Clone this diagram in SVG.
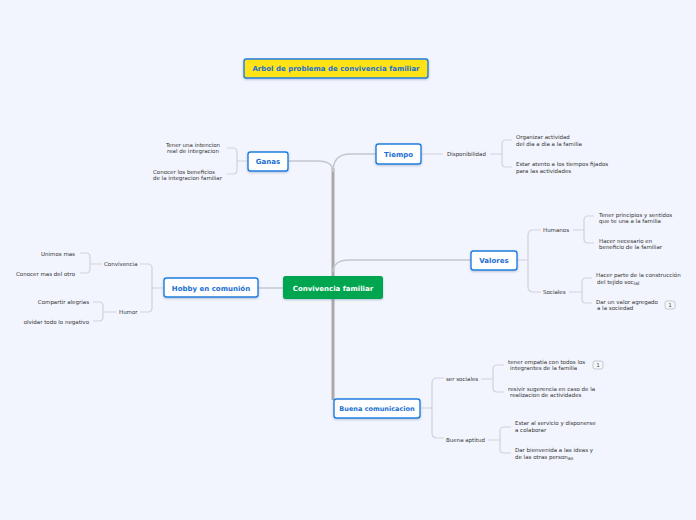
<svg xmlns="http://www.w3.org/2000/svg" width="696" height="520" viewBox="0 0 696 520">
<defs>
<filter id="sh" x="-10%" y="-20%" width="120%" height="150%"><feDropShadow dx="0" dy="1" stdDeviation="0.8" flood-color="#6a7fa0" flood-opacity="0.45"/></filter>
</defs>
<style>
.node{fill:#ffffff;stroke:#1f7fe0;stroke-width:1.4;filter:url(#sh)}
.lbl{font-family:"DejaVu Sans",Verdana,sans-serif;font-weight:bold;font-size:7px;fill:#1a6fd2;text-anchor:middle}
.t{font-family:"DejaVu Sans",Verdana,sans-serif;font-size:5.5px;fill:#333333}
.e{text-anchor:end}
.m{text-anchor:middle}
.c{fill:none;stroke:#cfd3db;stroke-width:1.2}
.c2{fill:none;stroke:#c3c6cc;stroke-width:1.4}
.trunk{fill:none;stroke:#a9a9a9;stroke-width:3}
.badge{fill:#f6f7f9;stroke:#b8bcc4;stroke-width:0.8}
</style>
<rect width="696" height="520" fill="#f2f5fd"/>

<g id="connectors">
<path class="trunk" d="M333,168 V400"/>
<path class="c2" d="M288,161 H318 Q333,161 333,172"/>
<path class="c2" d="M333,172 Q333,154 350,154 H376"/>
<path class="c2" d="M333,272 Q333,260 350,260 H471"/>
<path class="c2" d="M258,288 H283"/>
<path class="c" d="M248,161 H237 M227,148 H233 Q237,148 237,152 V170 Q237,174 233,174 H227"/>
<path class="c" d="M421,154 H443 M490,154 H502 M512,140 H506 Q502,140 502,144 V163 Q502,167 506,167 H512"/>
<path class="c" d="M517,260 H528 M541,230 H533 Q528,230 528,235 V287 Q528,292 533,292 H541"/>
<path class="c" d="M573,230 H584 M594,216 H588 Q584,216 584,220 V239 Q584,243 588,243 H594"/>
<path class="c" d="M569,292 H582 M592,278 H586 Q582,278 582,282 V299 Q582,303 586,303 H592"/>
<path class="c" d="M164,288 H152 M140,264 H148 Q152,264 152,268 V308 Q152,312 148,312 H140"/>
<path class="c" d="M102,264 H90 M80,253 H86 Q90,253 90,257 V269 Q90,273 86,273 H80"/>
<path class="c" d="M117,312 H103 M93,302 H99 Q103,302 103,306 V317 Q103,321 99,321 H93"/>
<path class="c" d="M421,408 H432 M444,378 H437 Q432,378 432,383 V433 Q432,438 437,438 H444"/>
<path class="c" d="M481,379 H493 M504,365 H497 Q493,365 493,369 V388 Q493,392 497,392 H504"/>
<path class="c" d="M488,440 H500 M511,427 H504 Q500,427 500,431 V449 Q500,453 504,453 H511"/>
</g>

<g id="title">
<rect x="244" y="59" width="184" height="19" rx="2.5" fill="#ffe313" stroke="#1f7fe0" stroke-width="1.4" filter="url(#sh)"/>
<text class="lbl" x="336" y="71">Arbol de problema de convivencia familiar</text>
</g>

<g id="center">
<rect x="283" y="276" width="100" height="23" rx="2.5" fill="#00a54f" filter="url(#sh)"/>
<text class="lbl" x="333" y="290.5" style="fill:#ffffff">Convivencia familiar</text>
</g>

<g id="ganas">
<rect class="node" x="248" y="152" width="40" height="19" rx="2.5"/>
<text class="lbl" x="268" y="164">Ganas</text>
<text class="t m" x="193" y="147">Tener una intencion</text>
<text class="t m" x="193" y="153">real de integracion</text>
<text class="t" x="153" y="174">Conocer los beneficios</text>
<text class="t" x="153" y="180">de la integracion familiar</text>
</g>

<g id="tiempo">
<rect class="node" x="376" y="144" width="45" height="20" rx="2.5"/>
<text class="lbl" x="398.5" y="156.5">Tiempo</text>
<text class="t" x="447" y="156">Disponibilidad</text>
<text class="t" x="516" y="139">Organizar actividad</text>
<text class="t" x="516" y="146">del dia a dia a la familia</text>
<text class="t" x="516" y="166">Estar atento a los tiempos fijados</text>
<text class="t" x="516" y="173">para las actividades</text>
</g>

<g id="valores">
<rect class="node" x="471" y="251" width="46" height="19" rx="2.5"/>
<text class="lbl" x="494" y="263">Valores</text>
<text class="t" x="543" y="232">Humanos</text>
<text class="t" x="599" y="216.5">Tener principios y sentidos</text>
<text class="t" x="599" y="222.5"> que te una a la familia</text>
<text class="t" x="599" y="243">Hacer necesario en</text>
<text class="t" x="599" y="249">beneficio de la familiar</text>
<text class="t" x="543" y="294">Sociales</text>
<text class="t" x="596" y="277">Hacer parte de la construcción</text>
<text class="t" x="597" y="283.5">del tejido soc<tspan dy="1" style="font-size:5px">ial</tspan></text>
<text class="t" x="596" y="304">Dar un valor agregado</text>
<text class="t" x="597" y="310">a la sociedad</text>
<rect class="badge" x="665" y="301" width="10" height="8" rx="2"/>
<text class="t m" x="670" y="307" style="font-size:5px">1</text>
</g>

<g id="hobby">
<rect class="node" x="164" y="278" width="94" height="19" rx="2.5"/>
<text class="lbl" x="211" y="290.5">Hobby en comunión</text>
<text class="t" x="104" y="266">Convivencia</text>
<text class="t e" x="75" y="256">Unimos mas</text>
<text class="t e" x="75" y="276">Conocer mas del otro</text>
<text class="t" x="119" y="314">Humor</text>
<text class="t e" x="89" y="304">Compartir alegrias</text>
<text class="t e" x="89" y="324">olvidar todo lo negativo</text>
</g>

<g id="buena">
<rect class="node" x="334" y="399" width="86" height="19" rx="2.5"/>
<text class="lbl" x="377" y="411" style="font-size:6.5px">Buena comunicacion</text>
<text class="t" x="446" y="381">ser sociales</text>
<text class="t" x="508" y="364">tener empatia con todos los</text>
<text class="t" x="510" y="370">integrantes de la familia</text>
<rect class="badge" x="593" y="361" width="10" height="8" rx="2"/>
<text class="t m" x="598" y="367" style="font-size:5px">1</text>
<text class="t" x="508" y="391">resivir sugerencia en caso de la</text>
<text class="t" x="510" y="397">realizacion de actividades</text>
<text class="t" x="446" y="442">Buena aptitud</text>
<text class="t" x="515" y="425">Estar al servicio y disponerse</text>
<text class="t" x="515" y="431.5">a colaborar</text>
<text class="t" x="515" y="452">Dar bienvenida a las ideas y</text>
<text class="t" x="515" y="458.5">de las otras person<tspan dy="1" style="font-size:5px">as</tspan></text>
</g>
</svg>
